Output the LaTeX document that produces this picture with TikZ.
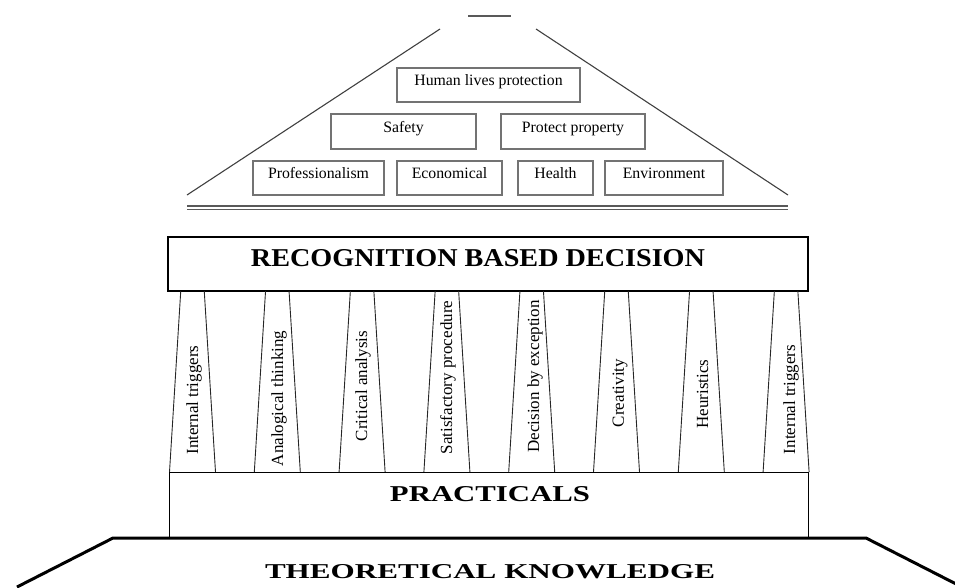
\documentclass[tikz,border=0pt]{standalone}
\usepackage{fontspec}
\setmainfont{Liberation Serif}
\usepackage{graphicx}
\begin{document}
\begin{tikzpicture}[x=1pt,y=-1pt,
  roofline/.style={draw=black!75, line width=1.1pt},
  lbox/.style={draw=black!55, line width=1.2pt, inner sep=0pt,
    font=\fontsize{15.8}{18}\selectfont, text height=6pt, text depth=5pt},
  pillarline/.style={draw=black!85, line width=0.9pt},
  plabel/.style={rotate=90, inner sep=0pt, font=\fontsize{17}{20}\selectfont},
  headtext/.style={inner sep=0pt, font=\bfseries},
  baseline/.style={draw=black, line width=3pt, line join=miter}
]
\useasboundingbox (0,0) rectangle (955,587);

% ---- roof ----
\coordinate (rl1) at (187,195);
\coordinate (rl2) at (440,29);
\coordinate (rr1) at (536,29);
\coordinate (rr2) at (788,195);
\coordinate (tp1) at (468,16);
\coordinate (tp2) at (511,16);
\draw[roofline] (rl1) -- (rl2);
\draw[roofline] (rr1) -- (rr2);
\draw[draw=black!65, line width=2pt] (tp1) -- (tp2);
\draw[draw=black!65, line width=1.2pt] (187,206) -- (788,206);
\draw[draw=black!65, line width=1.2pt] (187,209.5) -- (788,209.5);

% ---- value boxes ----
\node[lbox, minimum width=183pt, minimum height=34pt] (hlp) at (488.5,85) {Human lives protection};
\node[lbox, minimum width=145pt, minimum height=35pt] (saf) at (403.5,131.5) {Safety};
\node[lbox, minimum width=144pt, minimum height=35pt] (ppr) at (573,131.5) {Protect property};
\node[lbox, minimum width=131pt, minimum height=34pt] (pro) at (318.5,178) {Professionalism};
\node[lbox, minimum width=105pt, minimum height=34pt] (eco) at (449.5,178) {Economical};
\node[lbox, minimum width=75pt, minimum height=34pt] (hea) at (555.5,178) {Health};
\node[lbox, minimum width=118pt, minimum height=34pt] (env) at (664,178) {Environment};

% ---- recognition based decision ----
\node[draw=black, line width=2pt, minimum width=640pt, minimum height=54pt, inner sep=0pt] (rbd) at (488,264) {};
\node[headtext] (rbdt) at (478,258.5) {\resizebox{454pt}{17pt}{RECOGNITION BASED DECISION}};

% ---- pillars ----
\foreach \i in {0,...,7}{
  \pgfmathsetmacro\c{192.5+84.8*\i}
  \draw[pillarline] (\c-11.75,291) -- (\c-23,472);
  \draw[pillarline] (\c+11.75,291) -- (\c+23,472);
}
\node[plabel] (p1) at (194,400) {Internal triggers};
\node[plabel] (p2) at (279,398.5) {Analogical thinking};
\node[plabel] (p3) at (363,386) {Critical analysis};
\node[plabel] (p4) at (448,377.5) {Satisfactory procedure};
\node[plabel] (p5) at (535,376.5) {Decision by exception};
\node[plabel] (p6) at (620,393) {Creativity};
\node[plabel] (p7) at (702.5,394) {Heuristics};
\node[plabel] (p8) at (791,399.5) {Internal triggers};

% ---- practicals ----
\draw[draw=black, line width=1pt] (169,538) -- (169,472) -- (808,472) -- (808,538);
\node[headtext] (prt) at (490,494.5) {\resizebox{200pt}{15pt}{PRACTICALS}};

% ---- theoretical knowledge ----
\coordinate (b1) at (17,587);
\coordinate (b2) at (113,538);
\coordinate (b3) at (866,538);
\coordinate (b4) at (962,587);
\draw[baseline] (b1) -- (b2) -- (b3) -- (b4);
\node[headtext] (thk) at (490,572) {\resizebox{450pt}{14pt}{THEORETICAL KNOWLEDGE}};
\end{tikzpicture}
\end{document}
